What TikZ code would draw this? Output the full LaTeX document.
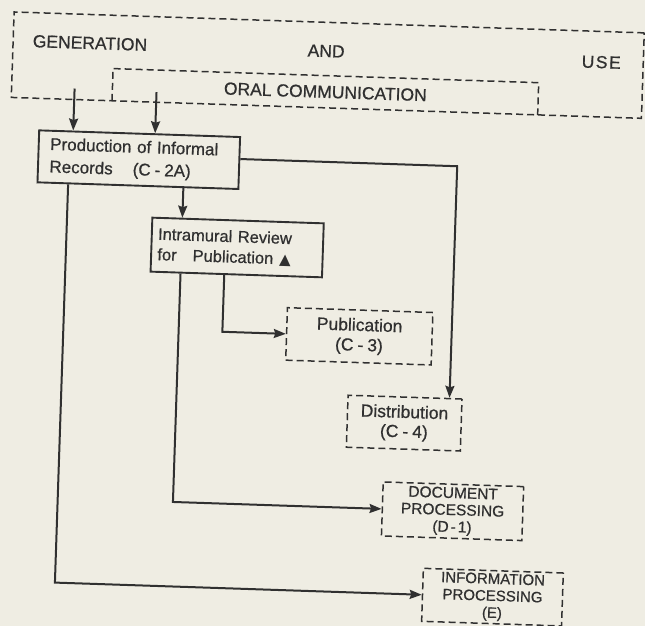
\documentclass[tikz,border=0pt]{standalone}
\usepackage{fontspec}
\setmainfont{Liberation Sans}[FakeBold=0.6]
\newfontfamily\leroy{Liberation Sans}[FakeBold=0.7]
\newfontfamily\symf{DejaVu Sans}
\usetikzlibrary{arrows.meta,calc}
\definecolor{paper}{RGB}{239,237,227}
\definecolor{ink}{RGB}{48,48,48}
\begin{document}
\begin{tikzpicture}[x=1pt,y=-1pt,
  solidbox/.style={draw=ink,line width=1.9pt,inner sep=0pt,text=ink},
  dashbox/.style={draw=ink,line width=1.5pt,dash pattern=on 7pt off 4pt,inner sep=0pt,text=ink},
  dashline/.style={draw=ink,line width=1.5pt,dash pattern=on 7pt off 4pt},
  link/.style={draw=ink,line width=2pt,-{Stealth[length=12pt,width=9pt,inset=1.5pt]}},
  big/.style={font=\leroy\fontsize{17.5}{20}\selectfont,text=ink,inner sep=0pt},
]
\fill[paper] (0,0) rectangle (645,626);
\useasboundingbox (0,0) rectangle (645,626);
\begin{scope}[rotate=-1.9,transform shape]
  % top frame
  \node[dashbox,minimum width=630.5pt,minimum height=85.5pt] (gen) at (329.75,54.25) {};
  \node[big,minimum width=425.5pt,minimum height=32pt] (oral) at (328.25,81) {ORAL COMMUNICATION};
  \draw[dashline] (oral.south west) -- (oral.north west) -- (oral.north east) -- (oral.south east);
  \node[big] (tgen) at (91.4,40) {GENERATION};
  \node[big] (tand) at (327.7,40.2) {AND};
  \node[big] (tuse) at (603,42.2) {U\hspace{1.5pt}S\hspace{1.5pt}E};
  % boxes
  \node[solidbox,align=left,text width=178pt,inner xsep=11.5pt,minimum height=52pt,font=\leroy\fontsize{17}{22.5}\selectfont] (prod) at (144,155)
    {Production of Informal\\Records\hspace{20pt}(C\hspace{4pt}-\hspace{4pt}2A)};
  \node[solidbox,align=left,text width=158.9pt,inner xsep=6.3pt,minimum height=54pt,font=\leroy\fontsize{16.5}{20.5}\selectfont] (intra) at (245.25,239.5)
    {Intramural Review\\for\hspace{16pt}Publication\hspace{6pt}{\symf\fontsize{15}{16}\selectfont ▲}};
  \node[dashbox,align=center,minimum width=145.5pt,minimum height=52.5pt,font=\leroy\fontsize{17.5}{20}\selectfont] (pub) at (370.25,324.25)
    {Publication\\(C\hspace{4pt}-\hspace{4pt}3)};
  \node[dashbox,align=center,minimum width=114pt,minimum height=52pt,font=\leroy\fontsize{17.5}{19.5}\selectfont] (dist) at (418,409.5)
    {Distribution\\(C\hspace{4pt}-\hspace{4pt}4)};
  \node[dashbox,align=center,minimum width=140.5pt,minimum height=54pt,font=\leroy\fontsize{15.5}{17}\selectfont] (doc) at (469.25,496)
    {DOCUMENT\\PROCESSING\\(D\hspace{2pt}-\hspace{2pt}1)};
  \node[dashbox,align=center,minimum width=140pt,minimum height=53pt,font=\leroy\fontsize{15}{17}\selectfont] (info) at (512,580.5)
    {INFORMATION\\PROCESSING\\(E)};
  % connectors
  \coordinate (s1) at (77.5,86);
  \coordinate (s2) at (159.5,87);
  \coordinate (c1) at (462.5,151);
  \coordinate (c2) at (233.25,324.25);
  \coordinate (c3) at (189.5,496);
  \coordinate (c4) at (74.2,580.5);
  \draw[link] (s1) -- ($(prod.north)+(-66.5,0)$);
  \draw[link] (s2) -- ($(prod.north)+(15.5,0)$);
  \draw[link] ($(prod.south)+(45.5,0)$) -- ($(intra.north)+(-55.75,0)$);
  \draw[link] ($(prod.east)+(0,-4)$) -- (c1) -- ($(dist.north)+(44.5,0)$);
  \draw[link] ($(intra.south)+(-12,0)$) -- (c2) -- (pub.west);
  \draw[link] ($(intra.south)+(-55.75,0)$) -- (c3) -- (doc.west);
  \draw[link] ($(prod.south)+(-69.8,0)$) -- (c4) -- (info.west);
\end{scope}
\end{tikzpicture}
\end{document}
